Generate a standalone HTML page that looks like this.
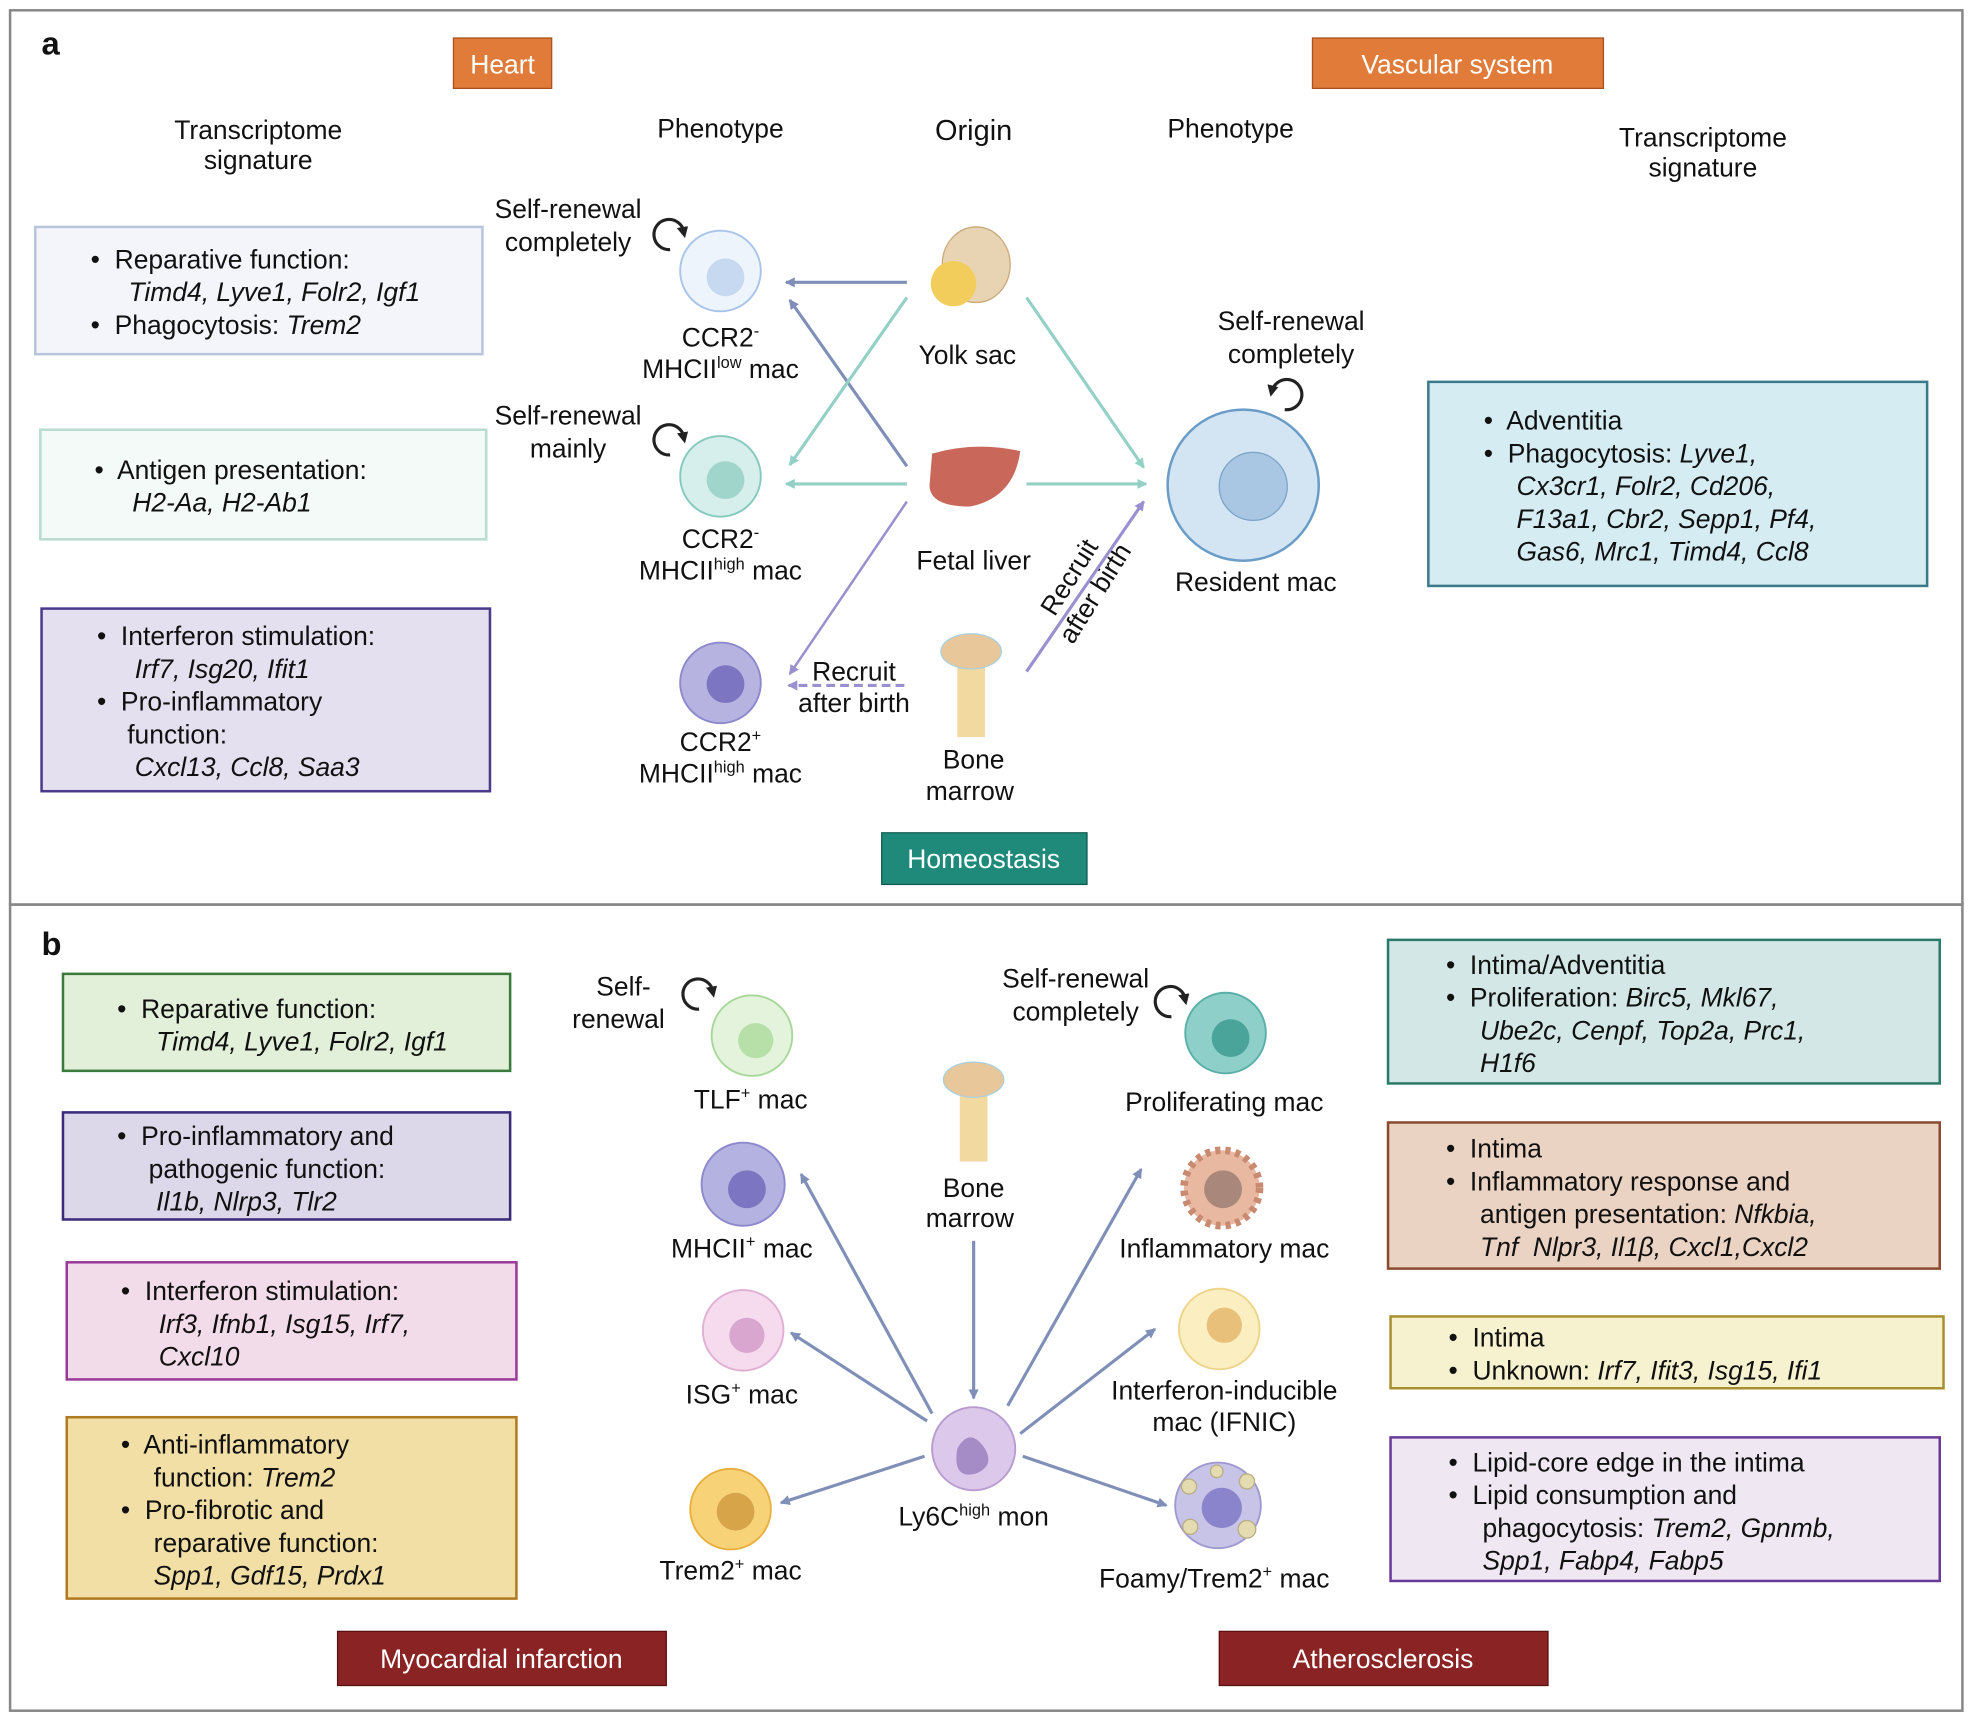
<!DOCTYPE html>
<html><head><meta charset="utf-8"><style>
html,body{margin:0;padding:0;background:#fff;}
svg{display:block;}
text{font-family:"Liberation Sans",sans-serif;fill:#111;white-space:pre;}
.t{font-size:21px;}
.i{font-style:italic;}
.w{fill:#fff;font-size:21px;}
</style></head><body>
<svg width="1975" height="1721" viewBox="0 0 1568 1366" xmlns="http://www.w3.org/2000/svg">
<defs>
<marker id="ab" markerWidth="8" markerHeight="8" refX="7" refY="4" orient="auto" markerUnits="userSpaceOnUse"><path d="M0,0 L8,4 L0,8 Z" fill="#7f8fb8"/></marker>
<marker id="ag" markerWidth="8" markerHeight="8" refX="7" refY="4" orient="auto" markerUnits="userSpaceOnUse"><path d="M0,0 L8,4 L0,8 Z" fill="#93d0c6"/></marker>
<marker id="ap" markerWidth="8" markerHeight="8" refX="7" refY="4" orient="auto" markerUnits="userSpaceOnUse"><path d="M0,0 L8,4 L0,8 Z" fill="#9a90d0"/></marker>
<marker id="ak" markerWidth="9" markerHeight="9" refX="4" refY="4" orient="auto" markerUnits="userSpaceOnUse"><path d="M0,0 L9,4 L0,9 Z" fill="#222"/></marker>
</defs>
<rect x="8" y="8" width="1550" height="710" fill="none" stroke="#888" stroke-width="2"/>
<rect x="8" y="718" width="1550" height="640" fill="none" stroke="#888" stroke-width="2"/>
<text x="33" y="43" style="font-size:26px;font-weight:bold">a</text>
<text x="33" y="758" style="font-size:26px;font-weight:bold">b</text>

<rect x="360" y="30" width="78" height="40" fill="#e07b39" stroke="#a85020"/><text class="w" x="399" y="58" text-anchor="middle">Heart</text>
<rect x="1042" y="30" width="231" height="40" fill="#e07b39" stroke="#a85020"/><text class="w" x="1157" y="58" text-anchor="middle">Vascular system</text>

<g class="t" text-anchor="middle">
<text class="t" x="205" y="110">Transcriptome</text><text class="t" x="205" y="134">signature</text>
<text class="t" x="572" y="109">Phenotype</text>
<text x="773" y="111" style="font-size:23px">Origin</text>
<text class="t" x="977" y="109">Phenotype</text>
<text class="t" x="1352" y="116">Transcriptome</text><text class="t" x="1352" y="140">signature</text>
</g>

<rect x="28" y="180" width="355" height="101" fill="#f3f5fb" stroke="#b8c4dc" stroke-width="2"/>
<text class="t" x="72" y="213">•  Reparative function:</text>
<text class="t i" x="102" y="239">Timd4, Lyve1, Folr2, Igf1</text>
<text class="t" x="72" y="265">•  Phagocytosis: <tspan class="i">Trem2</tspan></text>
<rect x="32" y="341" width="354" height="87" fill="#f3faf7" stroke="#b8dccf" stroke-width="2"/>
<text class="t" x="75" y="380">•  Antigen presentation:</text>
<text class="t i" x="105" y="406">H2-Aa, H2-Ab1</text>
<rect x="33" y="483" width="356" height="145" fill="#e5e0ef" stroke="#4b3a8a" stroke-width="2"/>
<text class="t" x="77" y="512">•  Interferon stimulation:</text>
<text class="t i" x="107" y="538">Irf7, Isg20, Ifit1</text>
<text class="t" x="77" y="564">•  Pro-inflammatory</text>
<text class="t" x="101" y="590">function:</text>
<text class="t i" x="107" y="616">Cxcl13, Ccl8, Saa3</text>

<rect x="1134" y="303" width="396" height="162" fill="#d5ecf3" stroke="#3a7a8a" stroke-width="2"/>
<text class="t" x="1178" y="341">•  Adventitia</text>
<text class="t" x="1178" y="367">•  Phagocytosis: <tspan class="i">Lyve1,</tspan></text>
<text class="t i" x="1204" y="393">Cx3cr1, Folr2, Cd206,</text>
<text class="t i" x="1204" y="419">F13a1, Cbr2, Sepp1, Pf4,</text>
<text class="t i" x="1204" y="445">Gas6, Mrc1, Timd4, Ccl8</text>

<circle cx="572" cy="215" r="32" fill="#eef4fb" stroke="#a8c4ea" stroke-width="1.5"/><circle cx="576" cy="220" r="15" fill="#c6d9f0"/>
<circle cx="572" cy="378" r="32" fill="#d6efec" stroke="#84c9bd" stroke-width="1.5"/><circle cx="576" cy="381" r="15" fill="#9fd5ca"/>
<circle cx="572" cy="542" r="32" fill="#b7b3e0" stroke="#8e88cc" stroke-width="1.5"/><circle cx="576" cy="543" r="15" fill="#7c75c2"/>
<circle cx="987" cy="385" r="60" fill="#d3e4f3" stroke="#6a9cc8" stroke-width="2"/><circle cx="995" cy="386" r="27" fill="#a9c7e2" stroke="#7ba3c8"/>
<path d="M532,198 A12,12 0 1 1 543,184" fill="none" stroke="#222" stroke-width="2.5" marker-end="url(#ak)"/>
<path d="M532,361 A12,12 0 1 1 543,347" fill="none" stroke="#222" stroke-width="2.5" marker-end="url(#ak)"/>
<path d="M1020,325 A12,12 0 1 0 1010,310" fill="none" stroke="#222" stroke-width="2.5" marker-end="url(#ak)"/>

<g class="t" text-anchor="middle">
<text class="t" x="451" y="173">Self-renewal</text><text class="t" x="451" y="199">completely</text>
<text class="t" x="451" y="337">Self-renewal</text><text class="t" x="451" y="363">mainly</text>
<text class="t" x="572" y="275">CCR2<tspan dy="-8" font-size="13">-</tspan></text><text class="t" x="572" y="300">MHCII<tspan dy="-8" font-size="13">low</tspan><tspan dy="8"> mac</tspan></text>
<text class="t" x="572" y="435">CCR2<tspan dy="-8" font-size="13">-</tspan></text><text class="t" x="572" y="460">MHCII<tspan dy="-8" font-size="13">high</tspan><tspan dy="8"> mac</tspan></text>
<text class="t" x="572" y="596">CCR2<tspan dy="-8" font-size="13">+</tspan></text><text class="t" x="572" y="621">MHCII<tspan dy="-8" font-size="13">high</tspan><tspan dy="8"> mac</tspan></text>
<text class="t" x="768" y="289">Yolk sac</text>
<text class="t" x="773" y="452">Fetal liver</text>
<text class="t" x="773" y="610">Bone</text><text class="t" x="770" y="635">marrow</text>
<text class="t" x="997" y="469">Resident mac</text>
<text class="t" x="1025" y="262">Self-renewal</text><text class="t" x="1025" y="288">completely</text>
<text class="t" x="678" y="540">Recruit</text><text class="t" x="678" y="565">after birth</text>
</g>
<g transform="translate(860,465) rotate(-58)"><text class="t" x="0" y="-6" text-anchor="middle">Recruit</text><text class="t" x="0" y="18" text-anchor="middle">after birth</text></g>

<ellipse cx="775" cy="210" rx="27" ry="30" fill="#e8d3b2" stroke="#c9a77a"/><circle cx="757" cy="225" r="18" fill="#f3cd5c"/>
<path d="M740,360 Q775,350 810,358 Q805,395 770,402 Q738,402 738,385 Z" fill="#c9685a"/>
<rect x="760" y="510" width="22" height="75" fill="#f2d9a0"/><ellipse cx="771" cy="517" rx="24" ry="14" fill="#e8c89a" stroke="#a8d0e0"/>

<line x1="720" y1="224" x2="624" y2="224" stroke="#7f8fb8" stroke-width="2.5" marker-end="url(#ab)"/>
<line x1="720" y1="370" x2="627" y2="238" stroke="#7f8fb8" stroke-width="2.5" marker-end="url(#ab)"/>
<line x1="720" y1="236" x2="627" y2="369" stroke="#93d0c6" stroke-width="2.5" marker-end="url(#ag)"/>
<line x1="720" y1="384" x2="624" y2="384" stroke="#93d0c6" stroke-width="2.5" marker-end="url(#ag)"/>
<line x1="720" y1="398" x2="627" y2="535" stroke="#9a90d0" stroke-width="2" marker-end="url(#ap)"/>
<line x1="718" y1="544" x2="626" y2="544" stroke="#9a90d0" stroke-width="2.5" stroke-dasharray="7,4" marker-end="url(#ap)"/>
<line x1="815" y1="236" x2="908" y2="371" stroke="#93d0c6" stroke-width="2.5" marker-end="url(#ag)"/>
<line x1="815" y1="384" x2="910" y2="384" stroke="#93d0c6" stroke-width="2.5" marker-end="url(#ag)"/>
<line x1="815" y1="533" x2="908" y2="398" stroke="#9a90d0" stroke-width="2.5" marker-end="url(#ap)"/>

<rect x="700" y="661" width="163" height="41" fill="#1f8a7a" stroke="#0f5a50"/><text class="w" x="781" y="689" text-anchor="middle">Homeostasis</text>

<rect x="50" y="773" width="355" height="77" fill="#e2efd9" stroke="#3a7a3a" stroke-width="2"/>
<text class="t" x="93" y="808">•  Reparative function:</text><text class="t i" x="124" y="834">Timd4, Lyve1, Folr2, Igf1</text>
<rect x="50" y="883" width="355" height="85" fill="#dcd8ea" stroke="#3a2a7a" stroke-width="2"/>
<text class="t" x="93" y="909">•  Pro-inflammatory and</text><text class="t" x="118" y="935">pathogenic function:</text><text class="t i" x="124" y="961">Il1b, Nlrp3, Tlr2</text>
<rect x="53" y="1002" width="357" height="93" fill="#f3dcea" stroke="#9a3a9a" stroke-width="2"/>
<text class="t" x="96" y="1032">•  Interferon stimulation:</text><text class="t i" x="126" y="1058">Irf3, Ifnb1, Isg15, Irf7,</text><text class="t i" x="126" y="1084">Cxcl10</text>
<rect x="53" y="1125" width="357" height="144" fill="#f1dfa6" stroke="#b07a20" stroke-width="2"/>
<text class="t" x="96" y="1154">•  Anti-inflammatory</text><text class="t" x="122" y="1180">function: <tspan class="i">Trem2</tspan></text>
<text class="t" x="96" y="1206">•  Pro-fibrotic and</text><text class="t" x="122" y="1232">reparative function:</text><text class="t i" x="122" y="1258">Spp1, Gdf15, Prdx1</text>

<rect x="1102" y="746" width="438" height="114" fill="#d3e8e6" stroke="#2a7a6a" stroke-width="2"/>
<text class="t" x="1148" y="773">•  Intima/Adventitia</text><text class="t" x="1148" y="799">•  Proliferation: <tspan class="i">Birc5, Mkl67,</tspan></text>
<text class="t i" x="1175" y="825">Ube2c, Cenpf, Top2a, Prc1,</text><text class="t i" x="1175" y="851">H1f6</text>
<rect x="1102" y="891" width="438" height="116" fill="#ebd3c4" stroke="#8a4a30" stroke-width="2"/>
<text class="t" x="1148" y="919">•  Intima</text><text class="t" x="1148" y="945">•  Inflammatory response and</text>
<text class="t" x="1175" y="971">antigen presentation: <tspan class="i">Nfkbia,</tspan></text><text class="t i" x="1175" y="997">Tnf  Nlpr3, Il1β, Cxcl1,Cxcl2</text>
<rect x="1104" y="1045" width="439" height="57" fill="#f6f2cf" stroke="#a89030" stroke-width="2"/>
<text class="t" x="1150" y="1069">•  Intima</text><text class="t" x="1150" y="1095">•  Unknown: <tspan class="i">Irf7, Ifit3, Isg15, Ifi1</tspan></text>
<rect x="1104" y="1141" width="436" height="114" fill="#efe8f3" stroke="#6a3a9a" stroke-width="2"/>
<text class="t" x="1150" y="1168">•  Lipid-core edge in the intima</text><text class="t" x="1150" y="1194">•  Lipid consumption and</text>
<text class="t" x="1177" y="1220">phagocytosis: <tspan class="i">Trem2, Gpnmb,</tspan></text><text class="t i" x="1177" y="1246">Spp1, Fabp4, Fabp5</text>

<circle cx="597" cy="822" r="32" fill="#e4f4dc" stroke="#a8d79a" stroke-width="1.5"/><circle cx="600" cy="826" r="14" fill="#b6e0a8"/>
<circle cx="590" cy="940" r="33" fill="#b4b2e0" stroke="#8e88cc" stroke-width="1.5"/><circle cx="593" cy="944" r="15" fill="#7c75c2"/>
<circle cx="590" cy="1056" r="32" fill="#f6dbee" stroke="#e0b0d4" stroke-width="1.5"/><circle cx="593" cy="1060" r="14" fill="#d8a6cf"/>
<circle cx="580" cy="1198" r="32" fill="#f8d277" stroke="#e8b040" stroke-width="1.5"/><circle cx="584" cy="1200" r="15" fill="#d8a44a"/>
<circle cx="773" cy="1150" r="33" fill="#dcc8ea" stroke="#b89cd0" stroke-width="1.5"/><path d="M760,1150 q10,-18 22,0 q8,14 -8,20 q-18,4 -14,-20z" fill="#a58cc7"/>
<circle cx="973" cy="820" r="32" fill="#8fcfc9" stroke="#5ab0a8" stroke-width="1.5"/><circle cx="977" cy="824" r="15" fill="#4aa49a"/>
<circle cx="970" cy="943" r="30" fill="#e8b8a0" stroke="#c88a70" stroke-width="6" stroke-dasharray="4,4"/><circle cx="971" cy="944" r="15" fill="#a9877a"/>
<circle cx="968" cy="1055" r="32" fill="#fbefc2" stroke="#ecd48a" stroke-width="1.5"/><circle cx="972" cy="1052" r="14" fill="#e8c07a"/>
<circle cx="967" cy="1195" r="34" fill="#c8c4e8" stroke="#9e9ad0" stroke-width="1.5"/><circle cx="970" cy="1197" r="16" fill="#8a84cc"/>
<g fill="#e4dcb0" stroke="#b8ac80"><circle cx="944" cy="1180" r="6"/><circle cx="990" cy="1176" r="6"/><circle cx="945" cy="1212" r="6"/><circle cx="990" cy="1214" r="7"/><circle cx="966" cy="1168" r="5"/></g>
<rect x="762" y="850" width="22" height="72" fill="#f2d9a0"/><ellipse cx="773" cy="857" rx="24" ry="14" fill="#e8c89a" stroke="#a8d0e0"/>
<path d="M555,801 A12,12 0 1 1 566,787" fill="none" stroke="#222" stroke-width="2.5" marker-end="url(#ak)"/>
<path d="M930,807 A12,12 0 1 1 941,793" fill="none" stroke="#222" stroke-width="2.5" marker-end="url(#ak)"/>

<g text-anchor="middle">
<text class="t" x="495" y="790">Self-</text><text class="t" x="491" y="816">renewal</text>
<text class="t" x="854" y="784">Self-renewal</text><text class="t" x="854" y="810">completely</text>
<text class="t" x="596" y="880">TLF<tspan dy="-8" font-size="13">+</tspan><tspan dy="8"> mac</tspan></text>
<text class="t" x="589" y="998">MHCII<tspan dy="-8" font-size="13">+</tspan><tspan dy="8"> mac</tspan></text>
<text class="t" x="589" y="1114">ISG<tspan dy="-8" font-size="13">+</tspan><tspan dy="8"> mac</tspan></text>
<text class="t" x="580" y="1254">Trem2<tspan dy="-8" font-size="13">+</tspan><tspan dy="8"> mac</tspan></text>
<text class="t" x="773" y="1211">Ly6C<tspan dy="-8" font-size="13">high</tspan><tspan dy="8"> mon</tspan></text>
<text class="t" x="773" y="950">Bone</text><text class="t" x="770" y="974">marrow</text>
<text class="t" x="972" y="882">Proliferating mac</text>
<text class="t" x="972" y="998">Inflammatory mac</text>
<text class="t" x="972" y="1111">Interferon-inducible</text><text class="t" x="972" y="1136">mac (IFNIC)</text>
<text class="t" x="964" y="1260">Foamy/Trem2<tspan dy="-8" font-size="13">+</tspan><tspan dy="8"> mac</tspan></text>
</g>

<g stroke="#7f8fb8" stroke-width="2.5">
<line x1="773" y1="985" x2="773" y2="1110" marker-end="url(#ab)"/>
<line x1="740" y1="1122" x2="636" y2="932" marker-end="url(#ab)"/>
<line x1="736" y1="1128" x2="628" y2="1058" marker-end="url(#ab)"/>
<line x1="734" y1="1156" x2="620" y2="1193" marker-end="url(#ab)"/>
<line x1="800" y1="1116" x2="906" y2="928" marker-end="url(#ab)"/>
<line x1="810" y1="1138" x2="917" y2="1055" marker-end="url(#ab)"/>
<line x1="812" y1="1156" x2="926" y2="1195" marker-end="url(#ab)"/>
</g>

<rect x="268" y="1295" width="261" height="43" fill="#8a2323" stroke="#5a1010"/><text class="w" x="398" y="1324" text-anchor="middle">Myocardial infarction</text>
<rect x="968" y="1295" width="261" height="43" fill="#8a2323" stroke="#5a1010"/><text class="w" x="1098" y="1324" text-anchor="middle">Atherosclerosis</text>
</svg>
</body></html>
